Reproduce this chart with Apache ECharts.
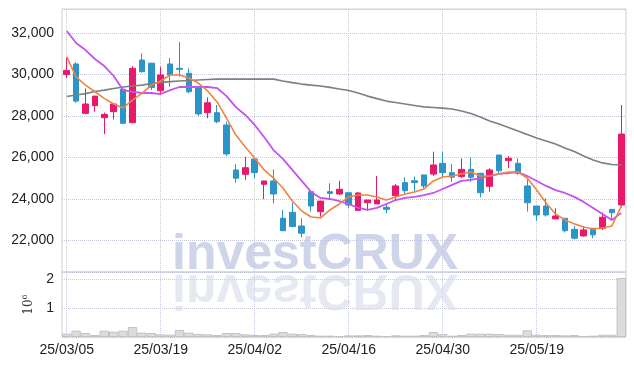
<!DOCTYPE html>
<html>
<head>
<meta charset="utf-8">
<script src="https://cdn.jsdelivr.net/npm/echarts@6/dist/echarts.min.js"></script>
<style>
  html, body { margin: 0; padding: 0; background: #fff; }
  #chart { width: 634px; height: 366px; }
</style>
</head>
<body>
<div id="chart"></div>
<script>
// trading days 25/03/05 .. 25/05/30
const dates = [
  '25/03/05', '25/03/06', '25/03/07', '25/03/10', '25/03/11', '25/03/12', '25/03/13', '25/03/14', '25/03/17', '25/03/18',
  '25/03/19', '25/03/20', '25/03/21', '25/03/24', '25/03/25', '25/03/26', '25/03/27', '25/03/28', '25/03/31', '25/04/01',
  '25/04/02', '25/04/03', '25/04/04', '25/04/07', '25/04/08', '25/04/09', '25/04/10', '25/04/11', '25/04/14', '25/04/15',
  '25/04/16', '25/04/17', '25/04/18', '25/04/21', '25/04/22', '25/04/23', '25/04/24', '25/04/25', '25/04/28', '25/04/29',
  '25/04/30', '25/05/02', '25/05/07', '25/05/08', '25/05/09', '25/05/12', '25/05/13', '25/05/14', '25/05/15', '25/05/16',
  '25/05/19', '25/05/20', '25/05/21', '25/05/22', '25/05/23', '25/05/26', '25/05/27', '25/05/28', '25/05/29', '25/05/30'
];

const opens = [
  30000, 30510, 28130, 28500, 27920, 28210, 29290, 27680, 30700, 30550,
  29220, 30510, 30300, 30060, 29410, 28160, 28160, 27570, 25400, 25190,
  25930, 24710, 24870, 23070, 23360, 22700, 24350, 23390, 24350, 24240,
  24300, 23450, 23820, 23760, 23600, 24160, 24790, 24880, 25160, 25200,
  25720, 25270, 25080, 25430, 25240, 24610, 26120, 25850, 25720, 24630,
  23660, 23660, 23040, 23070, 22540, 22220, 22590, 22590, 23500, 23710
];
const closes = [
  30200, 28720, 28580, 28960, 28080, 28580, 27650, 30300, 30140, 29380,
  29980, 29980, 30250, 29170, 28100, 28640, 27730, 26170, 25000, 25510,
  25270, 24870, 24240, 22470, 22670, 22350, 23660, 23900, 24270, 24470,
  23710, 24290, 23950, 23950, 23500, 24630, 24400, 24790, 24630, 25640,
  25270, 25050, 25430, 25050, 24300, 25400, 25360, 25960, 25240, 23820,
  23230, 23230, 23180, 22470, 22110, 22510, 22270, 23120, 23340, 27130
];
const lows = [
  29830, 28640, 28100, 28210, 27130, 27840, 27600, 27650, 30090, 29250,
  29090, 29410, 29900, 29090, 28000, 27890, 27650, 26070, 24790, 24920,
  25000, 23990, 23790, 22470, 22640, 22150, 23390, 23150, 23950, 24190,
  23550, 23440, 23420, 23760, 23310, 23920, 24240, 24350, 24510, 25110,
  25000, 24830, 25000, 24830, 24080, 24350, 25160, 25480, 25160, 23390,
  22950, 23150, 23030, 22380, 22060, 22190, 22110, 22510, 22990, 23600
];
const highs = [
  30850, 30590, 29330, 28960, 28160, 28580, 29290, 30410, 31020, 30560,
  30380, 30800, 31570, 30300, 29410, 28900, 28530, 27730, 25690, 26040,
  25930, 24870, 25430, 23470, 23820, 23070, 24350, 23910, 24760, 24880,
  24300, 24330, 23950, 25110, 23760, 24720, 25050, 25080, 25160, 26280,
  26280, 25690, 25960, 26010, 25240, 25480, 26120, 26070, 25960, 25000,
  23660, 24030, 23550, 23070, 22700, 22700, 22590, 23340, 23510, 28530
];

const ma5 = [
  30860, 29890, 29490, 29170, 28850, 28580, 28390, 28770, 29090, 29490,
  29690, 29980, 29980, 29830, 29590, 29210, 28680, 27900, 27080, 26510,
  25980, 25400, 25010, 24530, 23900, 23420, 23130, 23090, 23470, 23760,
  24100, 24190, 24190, 24100, 23950, 24100, 24240, 24340, 24480, 24870,
  25060, 25110, 25210, 25300, 25110, 25110, 25210, 25300, 25300, 25010,
  24430, 23810, 23280, 22990, 22800, 22650, 22550, 22600, 22700, 23660
];
const ma10 = [
  32100, 31520, 31180, 30750, 30410, 29930, 29250, 29160, 29110, 29110,
  29060, 29250, 29400, 29400, 29400, 29400, 29350, 28960, 28430, 28050,
  27570, 26990, 26360, 25930, 25400, 24870, 24340, 24050, 24000, 23900,
  23760, 23570, 23470, 23570, 23760, 23950, 24050, 24100, 24190, 24290,
  24480, 24680, 24870, 24920, 25010, 25110, 25210, 25250, 25300, 25110,
  24870, 24630, 24430, 24290, 24100, 23860, 23570, 23280, 22990, 23330
];
const maLong = [
  28940, 29010, 29080, 29180, 29250, 29330, 29400, 29450, 29490, 29570,
  29610, 29660, 29690, 29710, 29740, 29760, 29780, 29780, 29780, 29780,
  29780, 29780, 29780, 29690, 29610, 29540, 29490, 29450, 29380, 29300,
  29230, 29110, 28960, 28840, 28720, 28650, 28580, 28510, 28440, 28410,
  28380, 28340, 28240, 28120, 27950, 27760, 27610, 27450, 27280, 27110,
  26940, 26800, 26650, 26460, 26290, 26070, 25880, 25740, 25660, 25640
];

const volumes = [
  115000, 218000, 138000, 69000, 218000, 184000, 218000, 345000, 150000, 138000,
  92000, 80000, 241000, 150000, 103000, 92000, 69000, 138000, 138000, 92000,
  69000, 69000, 115000, 172000, 115000, 103000, 69000, 46000, 46000, 35000,
  57000, 57000, 69000, 46000, 35000, 57000, 46000, 46000, 69000, 172000,
  103000, 46000, 69000, 115000, 115000, 115000, 103000, 80000, 80000, 230000,
  80000, 69000, 69000, 57000, 69000, 35000, 46000, 80000, 80000, 2035000
];

const candles = dates.map((d, i) => [opens[i], closes[i], lows[i], highs[i]]);

const chart = echarts.init(document.getElementById('chart'));
const labelFont = "'Liberation Sans Narrow', 'Arial Narrow', sans-serif";
const gridLine = { type: 'dotted', color: '#c5c8dc', width: 1 };

chart.setOption({
  animation: false,
  backgroundColor: '#fff',
  grid: [
    { left: 62, width: 564, top: 9, height: 263, show: true, borderColor: '#cfcfcf', borderWidth: 1 },
    { left: 62, width: 564, top: 272, height: 65, show: true, borderColor: '#cfcfcf', borderWidth: 1 }
  ],
  graphic: [
    {
      type: 'text',
      z: 1,
      x: 172,
      y: 272,
      style: {
        text: 'investCRUX',
        x: 0,
        y: -17,
        verticalAlign: 'middle',
        font: "bold 50px 'Liberation Sans', Arial, sans-serif",
        fill: 'rgba(190,198,225,0.75)'
      }
    },
    {
      type: 'text',
      z: 1,
      x: 172,
      y: 272,
      scaleY: -1,
      style: {
        text: 'investCRUX',
        x: 0,
        y: -17,
        verticalAlign: 'middle',
        font: "bold 50px 'Liberation Sans', Arial, sans-serif",
        fill: 'rgba(215,219,234,0.6)'
      }
    }
  ],
  xAxis: [
    {
      type: 'category',
      gridIndex: 0,
      data: dates,
      boundaryGap: true,
      axisLine: { show: false },
      axisTick: { show: false },
      axisLabel: { show: false, interval: 9 },
      splitLine: { show: true, interval: 9, alignWithLabel: true, lineStyle: gridLine }
    },
    {
      type: 'category',
      gridIndex: 1,
      data: dates,
      boundaryGap: true,
      axisLine: { show: false },
      axisTick: { show: false },
      axisLabel: {
        interval: 9,
        margin: 6,
        color: '#222',
        fontFamily: labelFont,
        fontSize: 14
      },
      splitLine: { show: true, interval: 9, alignWithLabel: true, lineStyle: gridLine }
    }
  ],
  yAxis: [
    {
      type: 'value',
      gridIndex: 0,
      min: 20480,
      max: 33160,
      splitNumber: 6,
      axisLine: { show: false },
      axisTick: { show: false },
      axisLabel: {
        showMinLabel: false,
        showMaxLabel: false,
        margin: 8,
        color: '#222',
        fontFamily: labelFont,
        fontSize: 14,
        formatter: (v) => v.toLocaleString('en-US')
      },
      splitLine: { lineStyle: gridLine }
    },
    {
      type: 'value',
      gridIndex: 1,
      min: 0,
      max: 2240000,
      interval: 1000000,
      axisLine: { show: false },
      axisTick: { show: false },
      axisLabel: {
        showMinLabel: false,
        showMaxLabel: false,
        margin: 8,
        color: '#222',
        fontFamily: labelFont,
        fontSize: 14,
        formatter: (v) => String(v / 1000000)
      },
      splitLine: { lineStyle: gridLine },
      name: '10{s|6}',
      nameLocation: 'middle',
      nameRotate: 90,
      nameGap: 26,
      nameTextStyle: {
        fontFamily: "'DejaVu Serif', serif",
        fontSize: 12,
        color: '#333',
        rich: {
          s: { fontFamily: "'DejaVu Serif', serif", fontSize: 8, color: '#333', verticalAlign: 'top', padding: [0, 0, 7, 0] }
        }
      }
    }
  ],
  series: [
    {
      type: 'candlestick',
      xAxisIndex: 0,
      yAxisIndex: 0,
      data: candles,
      barWidth: 6,
      z: 3,
      itemStyle: {
        color: '#e8196b',
        color0: '#2c95c8',
        borderColor: '#e8196b',
        borderColor0: '#2c95c8',
        borderWidth: 1
      }
    },
    {
      type: 'line',
      name: 'MA long',
      xAxisIndex: 0,
      yAxisIndex: 0,
      data: maLong,
      symbol: 'none',
      z: 4,
      lineStyle: { color: '#7f7f7f', width: 1.6 }
    },
    {
      type: 'line',
      name: 'MA10',
      xAxisIndex: 0,
      yAxisIndex: 0,
      data: ma10,
      symbol: 'none',
      z: 4,
      lineStyle: { color: '#c752ee', width: 1.8 }
    },
    {
      type: 'line',
      name: 'MA5',
      xAxisIndex: 0,
      yAxisIndex: 0,
      data: ma5,
      symbol: 'none',
      z: 5,
      lineStyle: { color: '#f08444', width: 1.6 }
    },
    {
      type: 'bar',
      xAxisIndex: 1,
      yAxisIndex: 1,
      data: volumes,
      barCategoryGap: '0%',
      z: 3,
      itemStyle: { color: '#dcdcdc', borderColor: '#c2c2c2', borderWidth: 1 }
    }
  ]
});
</script>
</body>
</html>
